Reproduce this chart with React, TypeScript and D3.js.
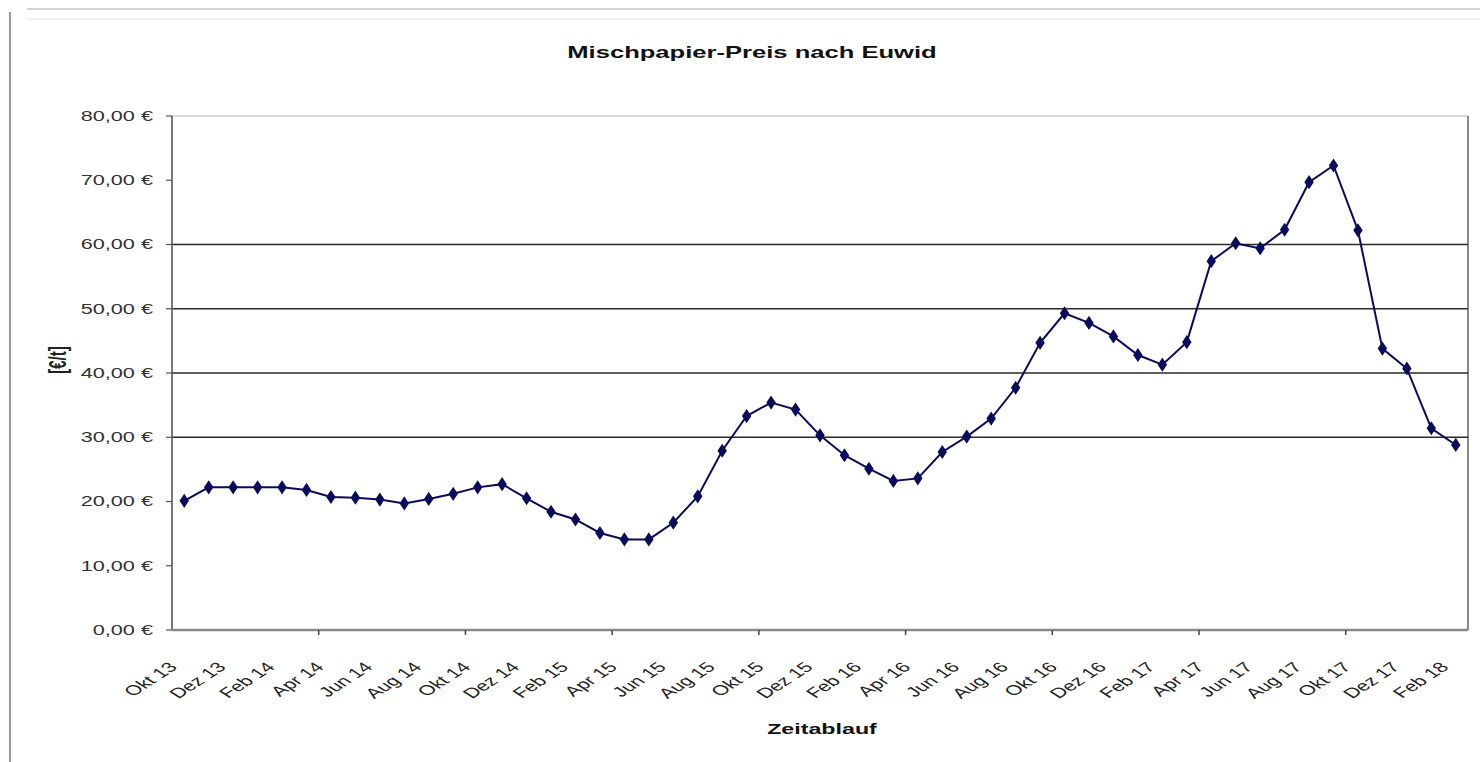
import React from "react";
import * as d3 from "d3";

// Monthly categories, Okt 13 … Feb 18
const months: string[] = [
  "Okt 13", "Nov 13", "Dez 13",
  "Jan 14", "Feb 14", "Mär 14", "Apr 14", "Mai 14", "Jun 14", "Jul 14", "Aug 14", "Sep 14", "Okt 14", "Nov 14", "Dez 14",
  "Jan 15", "Feb 15", "Mär 15", "Apr 15", "Mai 15", "Jun 15", "Jul 15", "Aug 15", "Sep 15", "Okt 15", "Nov 15", "Dez 15",
  "Jan 16", "Feb 16", "Mär 16", "Apr 16", "Mai 16", "Jun 16", "Jul 16", "Aug 16", "Sep 16", "Okt 16", "Nov 16", "Dez 16",
  "Jan 17", "Feb 17", "Mär 17", "Apr 17", "Mai 17", "Jun 17", "Jul 17", "Aug 17", "Sep 17", "Okt 17", "Nov 17", "Dez 17",
  "Jan 18", "Feb 18",
];

// Mischpapier price in €/t per month
const prices: number[] = [
  20.1, 22.2, 22.2,
  22.2, 22.2, 21.8, 20.7, 20.6, 20.3, 19.7, 20.4, 21.2, 22.2, 22.7, 20.5,
  18.4, 17.2, 15.1, 14.1, 14.1, 16.7, 20.8, 27.9, 33.3, 35.4, 34.3, 30.3,
  27.2, 25.1, 23.2, 23.6, 27.7, 30.1, 32.9, 37.7, 44.7, 49.3, 47.8, 45.7,
  42.8, 41.3, 44.8, 57.4, 60.2, 59.4, 62.3, 69.7, 72.3, 62.2, 43.8, 40.7,
  31.4, 28.8,
];

const yTicks: number[] = [0, 10, 20, 30, 40, 50, 60, 70, 80];
const gridValues: number[] = [30, 40, 50, 60];

const title = "Mischpapier-Preis nach Euwid";
const xTitle = "Zeitablauf";
const yTitle = "[€/t]";

const W = 1480;
const H = 762;
const plot = { left: 172, right: 1468, top: 116, bottom: 630 };
const SX = 1.55; // horizontal text stretch
const FONT = "Arial, 'Liberation Sans', sans-serif";
const SERIES = "#0b0b5c";

const fmt = (v: number) => `${d3.format(".2f")(v).replace(".", ",")} €`;

export default function App() {
  const x = d3.scaleBand<string>().domain(months).range([plot.left, plot.right]).padding(0);
  const y = d3.scaleLinear().domain([0, 80]).range([plot.bottom, plot.top]);
  const cx = (m: string) => (x(m) as number) + x.bandwidth() / 2;

  const line = d3
    .line<number>()
    .x((_, i) => cx(months[i]))
    .y((d) => y(d));

  const diamond = d3.symbol().type(d3.symbolDiamond).size(58)() as string;

  const labelMonths = months.filter((_, i) => i % 2 === 0);
  const tickIdx = months.map((_, i) => i).filter((i) => i % 6 === 0 && i > 0);

  return (
    <svg
      width={W}
      height={H}
      style={{ position: "absolute", left: 0, top: 0, display: "block", background: "#fff" }}
      fontFamily={FONT}
    >
      {/* outer frame */}
      <line x1={10} y1={12} x2={10} y2={H} stroke="#777" strokeWidth={1.5} />
      <line x1={27} y1={9} x2={W} y2={9} stroke="#aaa" strokeWidth={1.2} />
      <line x1={27} y1={19} x2={W} y2={19} stroke="#e6e6e6" strokeWidth={1} />

      {/* title */}
      <text
        transform={`translate(752,52) scale(${SX},1)`}
        textAnchor="middle"
        dy="0.35em"
        fontSize={16.5}
        fontWeight="bold"
        fill="#111"
      >
        {title}
      </text>

      {/* plot frame */}
      <line x1={plot.left} y1={plot.top} x2={plot.right} y2={plot.top} stroke="#c8c8c8" strokeWidth={1.5} />
      <line x1={plot.right} y1={plot.top} x2={plot.right} y2={plot.bottom} stroke="#8a8a8a" strokeWidth={2} />

      {/* gridlines */}
      {gridValues.map((v) => (
        <line key={v} x1={plot.left} x2={plot.right} y1={y(v)} y2={y(v)} stroke="#2a2a2a" strokeWidth={1.6} />
      ))}

      {/* y axis */}
      <line x1={plot.left} y1={plot.top} x2={plot.left} y2={plot.bottom} stroke="#555" strokeWidth={1.6} />
      {yTicks.map((v) => (
        <g key={v}>
          <line x1={plot.left - 6} x2={plot.left} y1={y(v)} y2={y(v)} stroke="#555" strokeWidth={1.2} />
          <text
            transform={`translate(153,${y(v)}) scale(${SX},1)`}
            textAnchor="end"
            dy="0.35em"
            fontSize={14}
            fill="#333"
          >
            {fmt(v)}
          </text>
        </g>
      ))}
      <text
        transform={`translate(58,360) scale(${SX},1) rotate(-90)`}
        textAnchor="middle"
        dy="0.35em"
        fontSize={15}
        fontWeight="bold"
        fill="#222"
      >
        {yTitle}
      </text>

      {/* x axis */}
      <line x1={plot.left} y1={plot.bottom} x2={plot.right} y2={plot.bottom} stroke="#8a8a8a" strokeWidth={2.5} />
      {tickIdx.map((i) => {
        const xx = x(months[i]) as number;
        return <line key={i} x1={xx} x2={xx} y1={plot.bottom} y2={plot.bottom + 5} stroke="#444" strokeWidth={1.5} />;
      })}
      {labelMonths.map((m) => (
        <text
          key={m}
          transform={`translate(${cx(m) - 6},668) scale(${SX},1) rotate(-45)`}
          textAnchor="end"
          fontSize={14}
          fill="#222"
        >
          {m}
        </text>
      ))}
      <text
        transform={`translate(822,729) scale(${SX},1)`}
        textAnchor="middle"
        dy="0.35em"
        fontSize={15}
        fontWeight="bold"
        fill="#111"
      >
        {xTitle}
      </text>

      {/* series */}
      <path d={line(prices) as string} fill="none" stroke={SERIES} strokeWidth={2} />
      {prices.map((v, i) => (
        <path
          key={months[i]}
          d={diamond}
          transform={`translate(${cx(months[i])},${y(v)}) scale(1.15,1)`}
          fill={SERIES}
        />
      ))}
    </svg>
  );
}
